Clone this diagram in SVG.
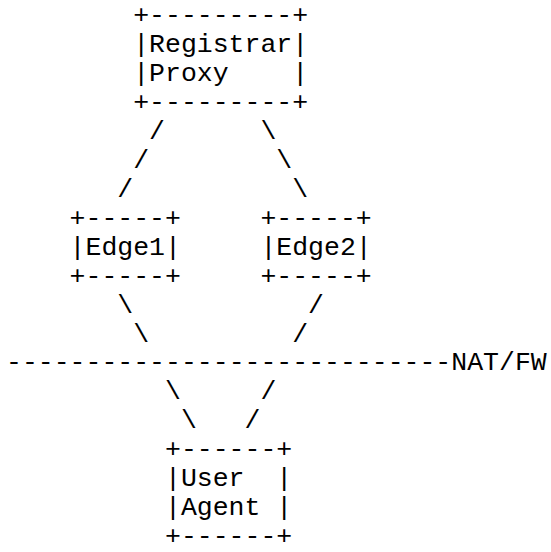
<svg xmlns="http://www.w3.org/2000/svg" width="551" height="552" viewBox="0 0 551 552" xml:space="preserve">
<style>
text{font-family:"Liberation Mono","Courier New",monospace;font-size:26.5px;fill:#000;white-space:pre}
</style>
<rect width="551" height="552" fill="#fff"/>
<g id="registrar-proxy">
<text x="133.2" y="23.4">+---------+</text>
<text x="133.2" y="52.3">|Registrar|</text>
<text x="133.2" y="81.2">|Proxy    |</text>
<text x="133.2" y="110.2">+---------+</text>
</g>
<g id="edge1">
<text x="69.6" y="225.8">+-----+</text>
<text x="69.6" y="254.8">|Edge1|</text>
<text x="69.6" y="283.7">+-----+</text>
</g>
<g id="edge2">
<text x="260.4" y="225.8">+-----+</text>
<text x="260.4" y="254.8">|Edge2|</text>
<text x="260.4" y="283.7">+-----+</text>
</g>
<g id="user-agent">
<text x="165" y="457.2">+------+</text>
<text x="165" y="486.1">|User  |</text>
<text x="165" y="515">|Agent |</text>
<text x="165" y="543.9">+------+</text>
</g>
<g id="nat-fw">
<text x="6" y="370.4">----------------------------NAT/FW</text>
</g>
<g id="connectors">
<text x="149.1" y="139.1">/</text>
<text x="260.4" y="139.1">\</text>
<text x="133.2" y="168">/</text>
<text x="276.3" y="168">\</text>
<text x="117.3" y="196.9">/</text>
<text x="292.2" y="196.9">\</text>
<text x="117.3" y="312.6">\</text>
<text x="308.1" y="312.6">/</text>
<text x="133.2" y="341.5">\</text>
<text x="292.2" y="341.5">/</text>
<text x="165" y="399.4">\</text>
<text x="260.4" y="399.4">/</text>
<text x="180.9" y="428.3">\</text>
<text x="244.5" y="428.3">/</text>
</g>
</svg>
